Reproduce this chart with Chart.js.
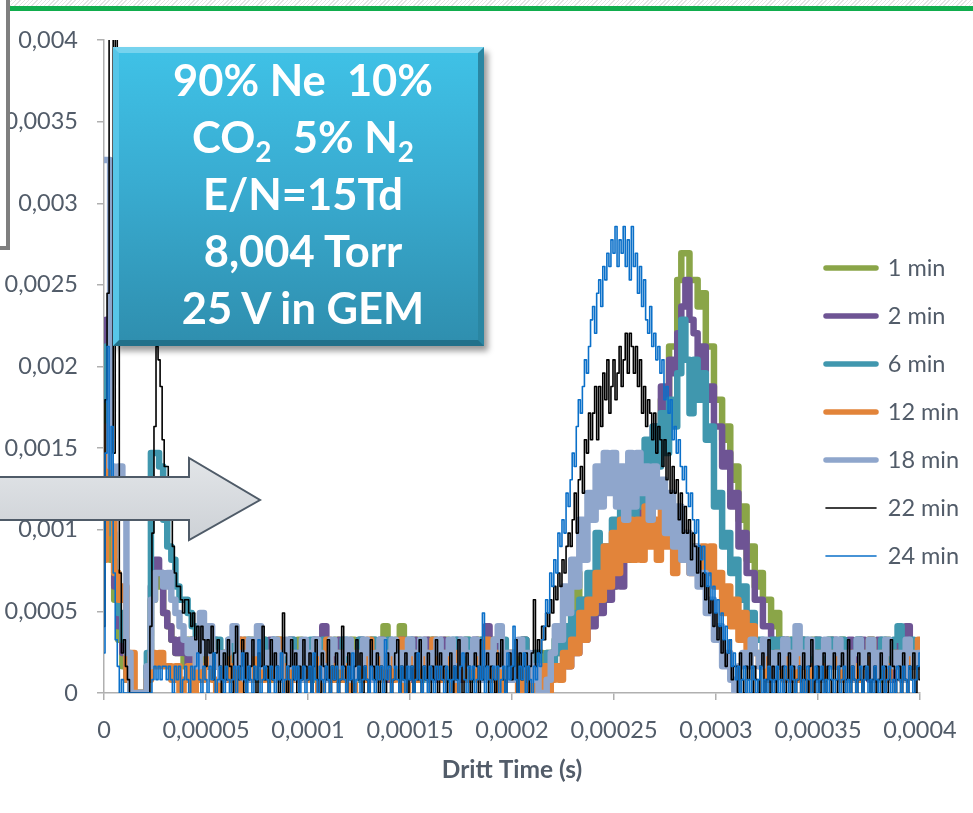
<!DOCTYPE html>
<html lang="en">
<head>
<meta charset="utf-8">
<title>Drift time spectra – 90% Ne 10% CO2 5% N2</title>
<script src="https://cdn.jsdelivr.net/npm/chart.js@4.4.1/dist/chart.umd.min.js"></script>
<style>
  html, body { margin: 0; padding: 0; background: #fff; }
  #stage { position: relative; width: 973px; height: 813px; overflow: hidden; background: #fff; }
  #chart { position: absolute; left: -20px; top: 0; }
  .hatch { position: absolute; left: 0; top: 0; width: 973px; height: 6px;
    background: repeating-linear-gradient(135deg, #ffffff 0 2px, #e3e3e3 2px 3px); }
  .rule { position: absolute; left: 0; top: 6px; width: 973px; height: 5px; background: #11ad4d; }
  .frame { position: absolute; left: -20px; top: -20px; width: 22px; height: 262px;
    border: 4px solid #7f7f7f; background: #fff; }
  .arrow { position: absolute; left: 0; top: 440px; overflow: visible; }
  .note { position: absolute; left: 113px; top: 47px; width: 371px; height: 299px; box-sizing: border-box;
    border-style: solid; border-width: 6px; border-color: #76d3ee #2a86a2 #21708a #57c6e8;
    background: linear-gradient(180deg, #3fc1e6 0%, #39acd1 45%, #2f8faf 100%);
    box-shadow: 4px 5px 6px rgba(0,0,0,0.4); }
  .note-text { position: absolute; left: 113px; top: 51px; width: 380px; text-align: center; color: #fff;
    font: 700 43.5px/57px Lato, 'Open Sans', sans-serif; white-space: nowrap; }
  .note-text sub { font-size: 28px; line-height: 0; vertical-align: -9px; }
</style>
</head>
<body>
<div id="stage">
  <div class="hatch"></div>
  <div class="rule"></div>
  <canvas id="chart" width="993" height="813"></canvas>
  <div class="frame"></div>
  <svg class="arrow" width="280" height="120" viewBox="0 0 280 120">
    <defs>
      <linearGradient id="arrowFill" x1="0" y1="0" x2="0" y2="1">
        <stop offset="0" stop-color="#e2e5e8"/>
        <stop offset="1" stop-color="#cdd1d6"/>
      </linearGradient>
    </defs>
    <polygon points="-6,37 189,37 189,18 260,60 189,100 189,80 -6,80"
             fill="url(#arrowFill)" stroke="#4f5b68" stroke-width="2"/>
  </svg>
  <div class="note"></div>
  <div class="note-text">
    <div>90% Ne&nbsp; 10%</div>
    <div>CO<sub>2</sub>&nbsp; 5% N<sub>2</sub></div>
    <div>E/N=15Td</div>
    <div>8,004 Torr</div>
    <div>25 V in GEM</div>
  </div>
</div>
<script>
// Drift-time histograms: hits per time bin, normalised to the total number of hits.
const totalHits = 12250;

// Bin widths (s): 2 µs for the thick traces, 1 µs for the thin traces.
const binCoarse = 2e-6;
const binFine = 1e-6;

// 1 min – 2 µs bins, t = 0 … 400 µs
const hits1min = [
  18, 24, 10, 7, 4, 2, 1, 0, 0, 0,
  0, 2, 7, 9, 8, 6, 5, 4, 3, 3,
  2, 4, 3, 1, 3, 2, 4, 3, 2, 1,
  3, 2, 4, 2, 3, 1, 4, 3, 2, 4,
  3, 1, 2, 4, 3, 2, 3, 1, 4, 2,
  3, 2, 1, 3, 4, 2, 3, 4, 1, 3,
  2, 4, 3, 1, 2, 3, 4, 2, 3, 5,
  3, 2, 4, 5, 2, 3, 1, 4, 3, 2,
  4, 3, 1, 2, 4, 3, 2, 3, 1, 4,
  2, 3, 4, 2, 1, 3, 4, 2, 3, 2,
  1, 3, 2, 4, 2, 1, 2, 3, 2, 3,
  2, 4, 3, 3, 4, 6, 9, 6, 7, 6,
  8, 7, 9, 8, 9, 8, 9, 10, 11, 10,
  11, 13, 12, 16, 15, 19, 18, 22, 22, 26,
  26, 31, 33, 33, 31, 31, 29, 30, 26, 26,
  22, 22, 19, 20, 16, 17, 13, 14, 10, 11,
  8, 9, 7, 7, 5, 6, 4, 3, 4, 2,
  3, 4, 2, 3, 4, 1, 3, 2, 4, 3,
  2, 4, 3, 1, 3, 4, 2, 3, 4, 2,
  3, 1, 4, 2, 3, 4, 2, 3, 2, 3,
  2
];

// 2 min – 2 µs bins
const hits2min = [
  25, 28, 14, 8, 5, 3, 1, 0, 0, 0,
  0, 2, 8, 10, 9, 6, 5, 4, 3, 4,
  3, 2, 4, 3, 1, 2, 3, 4, 2, 3,
  1, 3, 2, 4, 3, 2, 3, 1, 2, 3,
  2, 4, 3, 1, 3, 2, 4, 3, 2, 1,
  3, 2, 4, 3, 5, 2, 3, 1, 4, 2,
  3, 1, 2, 4, 3, 2, 1, 3, 4, 2,
  1, 3, 2, 4, 3, 1, 4, 2, 3, 4,
  2, 3, 1, 4, 2, 3, 2, 4, 1, 3,
  2, 4, 3, 1, 5, 2, 3, 4, 2, 1,
  3, 2, 1, 4, 2, 1, 3, 2, 1, 2,
  3, 2, 2, 3, 2, 4, 3, 5, 4, 6,
  5, 7, 6, 8, 7, 8, 9, 8, 10, 11,
  12, 14, 13, 17, 16, 20, 19, 23, 21, 25,
  24, 27, 29, 31, 28, 27, 24, 26, 22, 23,
  20, 20, 17, 18, 14, 15, 11, 12, 9, 9,
  7, 7, 5, 5, 4, 3, 2, 4, 3, 1,
  3, 4, 2, 3, 1, 4, 3, 2, 3, 4,
  2, 3, 1, 4, 3, 2, 4, 3, 1, 3,
  4, 2, 3, 1, 3, 4, 3, 5, 2, 3,
  2
];

// 6 min – 2 µs bins
const hits6min = [
  22, 26, 12, 9, 6, 4, 1, 0, 0, 0,
  0, 3, 18, 18, 17, 13, 11, 10, 8, 7,
  7, 6, 5, 4, 3, 4, 2, 3, 4, 2,
  3, 4, 2, 1, 3, 4, 2, 3, 1, 4,
  2, 3, 4, 2, 1, 3, 4, 2, 3, 1,
  3, 4, 1, 2, 4, 3, 2, 1, 3, 4,
  2, 3, 1, 4, 2, 3, 4, 1, 2, 3,
  4, 2, 3, 1, 3, 4, 2, 3, 1, 2,
  3, 4, 2, 3, 1, 2, 4, 3, 2, 4,
  1, 3, 2, 4, 3, 1, 2, 3, 4, 2,
  3, 1, 2, 4, 1, 2, 3, 1, 2, 3,
  2, 4, 3, 5, 3, 6, 4, 7, 5, 9,
  6, 12, 7, 11, 9, 13, 10, 14, 11, 15,
  13, 16, 14, 19, 16, 20, 17, 21, 18, 22,
  20, 24, 28, 25, 21, 25, 22, 24, 19, 20,
  14, 15, 11, 12, 9, 10, 7, 8, 5, 6,
  4, 4, 3, 2, 4, 3, 4, 2, 3, 4,
  3, 2, 4, 3, 1, 4, 3, 2, 4, 3,
  2, 4, 3, 1, 3, 4, 2, 3, 4, 2,
  3, 4, 2, 3, 4, 5, 3, 2, 4, 3,
  3
];

// 12 min – 2 µs bins
const hits12min = [
  10, 20, 14, 9, 7, 8, 1, 3, 0, 0,
  0, 1, 3, 2, 3, 2, 2, 1, 2, 0,
  1, 2, 0, 3, 1, 2, 4, 1, 0, 2,
  3, 1, 2, 0, 4, 2, 1, 3, 2, 1,
  2, 3, 1, 4, 2, 0, 3, 1, 2, 3,
  1, 2, 3, 0, 2, 4, 1, 2, 3, 1,
  2, 0, 3, 2, 1, 4, 2, 3, 1, 2,
  3, 1, 2, 4, 0, 2, 3, 1, 2, 3,
  1, 4, 2, 1, 3, 2, 0, 3, 2, 1,
  2, 3, 1, 2, 4, 1, 3, 0, 2, 1,
  3, 1, 0, 2, 1, 0, 1, 0, 2, 0,
  1, 2, 1, 3, 2, 4, 3, 6, 4, 7,
  6, 9, 7, 11, 8, 12, 9, 13, 10, 13,
  10, 13, 10, 14, 11, 13, 10, 14, 11, 13,
  9, 12, 10, 12, 9, 11, 9, 11, 9, 11,
  8, 9, 6, 8, 5, 7, 4, 6, 3, 5,
  3, 2, 3, 1, 2, 3, 2, 1, 3, 2,
  1, 3, 2, 0, 2, 3, 1, 2, 3, 2,
  3, 1, 2, 3, 2, 1, 3, 2, 4, 1,
  2, 3, 1, 2, 3, 2, 1, 3, 2, 3,
  4
];

// 18 min – 2 µs bins
const hits18min = [
  40, 40, 17, 16, 17, 16, 3, 0, 0, 0,
  0, 2, 7, 9, 9, 8, 9, 7, 6, 5,
  4, 3, 4, 2, 6, 3, 5, 2, 3, 1,
  3, 4, 5, 2, 3, 1, 4, 3, 5, 2,
  3, 2, 4, 1, 3, 4, 2, 3, 1, 4,
  2, 3, 4, 3, 1, 2, 4, 3, 2, 3,
  4, 1, 3, 2, 4, 3, 1, 3, 4, 2,
  3, 4, 2, 3, 1, 4, 3, 2, 4, 3,
  1, 3, 4, 2, 3, 4, 1, 2, 4, 3,
  2, 4, 3, 1, 3, 2, 4, 5, 2, 3,
  1, 3, 4, 2, 3, 1, 2, 0, 0, 1,
  3, 5, 4, 8, 6, 10, 8, 13, 10, 15,
  13, 17, 14, 18, 15, 18, 14, 17, 13, 18,
  14, 18, 15, 17, 13, 17, 14, 16, 12, 15,
  11, 14, 10, 12, 9, 11, 8, 9, 6, 7,
  4, 5, 2, 3, 1, 0, 2, 3, 2, 4,
  3, 2, 4, 3, 1, 3, 2, 4, 3, 2,
  5, 3, 2, 4, 3, 1, 3, 4, 2, 3,
  4, 2, 3, 1, 3, 4, 2, 3, 4, 1,
  3, 2, 4, 3, 2, 3, 1, 4, 3, 2,
  3
];

// 22 min – 1 µs bins, t = 0 … 400 µs
const hits22min = [
  5, 22, 30, 58, 52, 18, 60, 45, 9, 3,
  4, 2, 1, 0, 0, 0, 0, 0, 0, 0,
  0, 0, 0, 5, 12, 20, 26, 25, 23, 19,
  17, 17, 16, 13, 11, 9, 8, 8, 7, 6,
  7, 7, 6, 5, 6, 4, 5, 3, 5, 4,
  2, 4, 3, 5, 1, 3, 4, 2, 0, 3,
  1, 4, 2, 0, 3, 5, 1, 2, 4, 0,
  3, 1, 2, 4, 1, 0, 3, 2, 5, 1,
  2, 0, 4, 1, 3, 2, 0, 1, 6, 3,
  0, 2, 4, 1, 3, 0, 2, 1, 4, 2,
  1, 3, 0, 2, 4, 1, 0, 3, 2, 1,
  4, 0, 2, 1, 3, 0, 1, 5, 2, 0,
  3, 1, 0, 2, 4, 1, 3, 0, 2, 1,
  0, 4, 2, 1, 3, 0, 2, 1, 0, 3,
  2, 0, 1, 3, 4, 0, 2, 1, 3, 0,
  1, 2, 0, 3, 1, 4, 0, 2, 1, 3,
  0, 2, 1, 4, 0, 3, 1, 2, 0, 1,
  3, 0, 2, 1, 4, 2, 0, 1, 3, 2,
  0, 1, 3, 2, 0, 4, 1, 2, 3, 0,
  2, 1, 0, 3, 2, 4, 1, 0, 2, 3,
  1, 2, 4, 0, 3, 1, 2, 3, 0, 2,
  3, 7, 2, 4, 3, 5, 4, 6, 5, 7,
  6, 8, 7, 9, 8, 10, 9, 11, 12, 11,
  13, 15, 12, 16, 17, 15, 19, 18, 21, 19,
  21, 23, 19, 23, 20, 24, 22, 25, 21, 23,
  25, 22, 24, 26, 23, 25, 27, 24, 27, 26,
  24, 26, 23, 25, 21, 23, 20, 22, 21, 19,
  21, 18, 20, 19, 17, 19, 16, 18, 15, 17,
  15, 16, 13, 15, 12, 14, 12, 13, 10, 12,
  11, 9, 11, 8, 9, 7, 8, 6, 7, 5,
  6, 4, 5, 3, 4, 2, 3, 4, 1, 2,
  2, 0, 3, 1, 0, 2, 1, 3, 0, 2,
  1, 0, 2, 3, 0, 1, 4, 0, 2, 1,
  0, 3, 1, 2, 0, 1, 3, 0, 2, 0,
  1, 2, 0, 3, 1, 0, 2, 4, 0, 1,
  2, 0, 1, 3, 0, 2, 1, 0, 3, 1,
  0, 2, 3, 0, 1, 4, 0, 2, 1, 0,
  3, 1, 0, 2, 1, 3, 0, 1, 2, 0,
  1, 3, 0, 2, 0, 1, 4, 2, 0, 1,
  2, 0, 3, 1, 0, 2, 1, 3, 0, 2,
  1
];

// 24 min – 1 µs bins
const hits24min = [
  3, 18, 26, 14, 20, 9, 4, 2, 0, 1,
  0, 0, 0, 0, 0, 0, 0, 0, 0, 0,
  0, 0, 0, 0, 1, 2, 1, 2, 1, 2,
  2, 1, 2, 1, 0, 2, 1, 2, 0, 1,
  2, 1, 0, 2, 1, 2, 3, 1, 0, 2,
  1, 0, 2, 1, 3, 0, 1, 2, 1, 0,
  2, 1, 0, 1, 2, 0, 2, 1, 3, 1,
  0, 2, 1, 0, 2, 1, 4, 0, 1, 2,
  1, 0, 2, 1, 0, 2, 1, 3, 0, 1,
  2, 1, 0, 2, 1, 2, 0, 1, 2, 0,
  1, 2, 0, 3, 1, 0, 2, 1, 0, 2,
  1, 0, 2, 1, 2, 0, 1, 2, 1, 0,
  2, 1, 3, 0, 1, 2, 0, 1, 2, 1,
  0, 2, 1, 0, 2, 1, 2, 0, 4, 1,
  2, 0, 1, 2, 1, 0, 2, 1, 0, 2,
  1, 2, 0, 1, 3, 1, 0, 2, 1, 0,
  2, 1, 0, 2, 1, 2, 1, 0, 2, 1,
  0, 1, 2, 1, 0, 2, 3, 1, 0, 2,
  1, 2, 0, 1, 2, 1, 6, 0, 2, 1,
  0, 2, 1, 2, 0, 1, 2, 0, 3, 1,
  2, 5, 1, 0, 2, 1, 3, 0, 2, 1,
  0, 2, 1, 3, 2, 4, 5, 7, 6, 9,
  8, 10, 9, 12, 11, 13, 12, 15, 14, 16,
  18, 17, 20, 22, 21, 23, 25, 24, 26, 28,
  29, 27, 30, 31, 29, 32, 31, 33, 32, 34,
  33, 35, 32, 34, 33, 35, 32, 34, 31, 35,
  32, 33, 30, 32, 29, 31, 28, 27, 29, 26,
  27, 25, 26, 24, 25, 22, 23, 21, 22, 19,
  20, 18, 19, 17, 16, 17, 15, 14, 15, 13,
  12, 13, 11, 10, 11, 9, 8, 9, 7, 8,
  6, 7, 5, 6, 4, 5, 3, 4, 2, 3,
  1, 2, 0, 1, 2, 0, 1, 0, 2, 1,
  0, 1, 2, 0, 1, 0, 2, 1, 0, 1,
  2, 0, 1, 0, 2, 1, 0, 2, 1, 0,
  1, 2, 0, 1, 0, 2, 1, 0, 1, 2,
  0, 1, 2, 0, 1, 0, 2, 1, 0, 1,
  2, 0, 1, 2, 0, 1, 0, 2, 1, 0,
  1, 2, 0, 1, 2, 0, 1, 0, 2, 1,
  0, 1, 2, 0, 1, 2, 0, 1, 0, 2,
  1, 0, 2, 1, 0, 2, 1, 0, 1, 2,
  3
];

const seriesLabels = ['1 min', '2 min', '6 min', '12 min', '18 min', '22 min', '24 min'];
const seriesHits = [hits1min, hits2min, hits6min, hits12min, hits18min, hits22min, hits24min];
const seriesBins = [binCoarse, binCoarse, binCoarse, binCoarse, binCoarse, binFine, binFine];

const xTickLabels = ['0', '0,00005', '0,0001', '0,00015', '0,0002', '0,00025', '0,0003', '0,00035', '0,0004'];
const yTickLabels = ['0', '0,0005', '0,001', '0,0015', '0,002', '0,0025', '0,003', '0,0035', '0,004'];

// Styling
const seriesColors = ['#8aa548', '#6e5494', '#4097ae', '#e2843a', '#8fa6cc', '#000000', '#0b70c9'];
const seriesWidths = [6.5, 6.5, 6.5, 6.5, 6.5, 1.6, 1.6];
const legendWidths = [5.5, 5.5, 5.5, 5.5, 5.5, 1.6, 1.6];
const TEXT = '#525c69';
const AXIS = '#b0b0b0';

Chart.defaults.font.family = "Lato, 'Open Sans', sans-serif";

const datasets = seriesHits.map((hits, k) => ({
  label: seriesLabels[k],
  data: hits.map((n, i) => ({ x: i * seriesBins[k], y: n / totalHits })),
  borderColor: seriesColors[k],
  backgroundColor: seriesColors[k],
  borderWidth: seriesWidths[k],
  borderCapStyle: 'round',
  borderJoinStyle: 'round',
  stepped: 'middle',            // histogram bins
  pointRadius: 0,
  pointHoverRadius: 0,
  fill: false,
  order: seriesHits.length - k  // later acquisitions drawn on top
}));

// Put the legend column over the right part of the plot.
const legendPlacement = {
  id: 'legendPlacement',
  afterLayout(chart) {
    const lg = chart.legend;
    if (!lg) return;
    lg.left = 821.5;
    lg.right = lg.left + lg.width;
    lg.top = 231.75;
    lg.bottom = chart.height;
  }
};

new Chart(document.getElementById('chart'), {
  type: 'line',
  data: { datasets },
  options: {
    responsive: false,
    animation: false,
    devicePixelRatio: 1,
    parsing: false,
    normalized: true,
    events: [],
    layout: { padding: { top: 40, right: 53, bottom: 0, left: 0 } },
    plugins: {
      tooltip: { enabled: false },
      legend: {
        position: 'chartArea',
        align: 'start',
        labels: {
          usePointStyle: true,
          pointStyle: 'line',
          pointStyleWidth: 50,
          padding: 24.5,
          color: TEXT,
          font: { size: 23.5 },
          sort: (a, b) => a.datasetIndex - b.datasetIndex,
          generateLabels(chart) {
            const items = Chart.defaults.plugins.legend.labels.generateLabels(chart);
            items.forEach(it => {
              const k = it.datasetIndex;
              it.lineWidth = legendWidths[k];
              it.lineCap = 'round';
              it.strokeStyle = seriesColors[k];
              it.pointStyle = 'line';
            });
            return items;
          }
        }
      }
    },
    scales: {
      x: {
        type: 'linear',
        min: 0,
        max: 0.0004,
        afterFit(scale) { scale.height = 120; },
        border: { display: true, color: AXIS, width: 1.5 },
        grid: { drawOnChartArea: false, drawTicks: true, tickLength: 7, color: AXIS, lineWidth: 1.5 },
        ticks: {
          stepSize: 0.00005,
          autoSkip: false,
          maxRotation: 0,
          padding: 16,
          color: TEXT,
          font: { size: 23.5 },
          callback: (v, i) => xTickLabels[i]
        },
        title: {
          display: true,
          text: 'Dritt Time (s)',
          color: TEXT,
          font: { size: 24.5, weight: 'bold' },
          padding: { top: 0, bottom: 28 }
        }
      },
      y: {
        type: 'linear',
        min: 0,
        max: 0.004,
        afterFit(scale) { scale.width = 124; },
        border: { display: true, color: AXIS, width: 1.5 },
        grid: { drawOnChartArea: false, drawTicks: true, tickLength: 7, color: AXIS, lineWidth: 1.5 },
        ticks: {
          stepSize: 0.0005,
          padding: 19,
          color: TEXT,
          font: { size: 23.5 },
          callback: (v, i) => yTickLabels[i]
        }
      }
    }
  },
  plugins: [legendPlacement]
});
</script>
</body>
</html>
